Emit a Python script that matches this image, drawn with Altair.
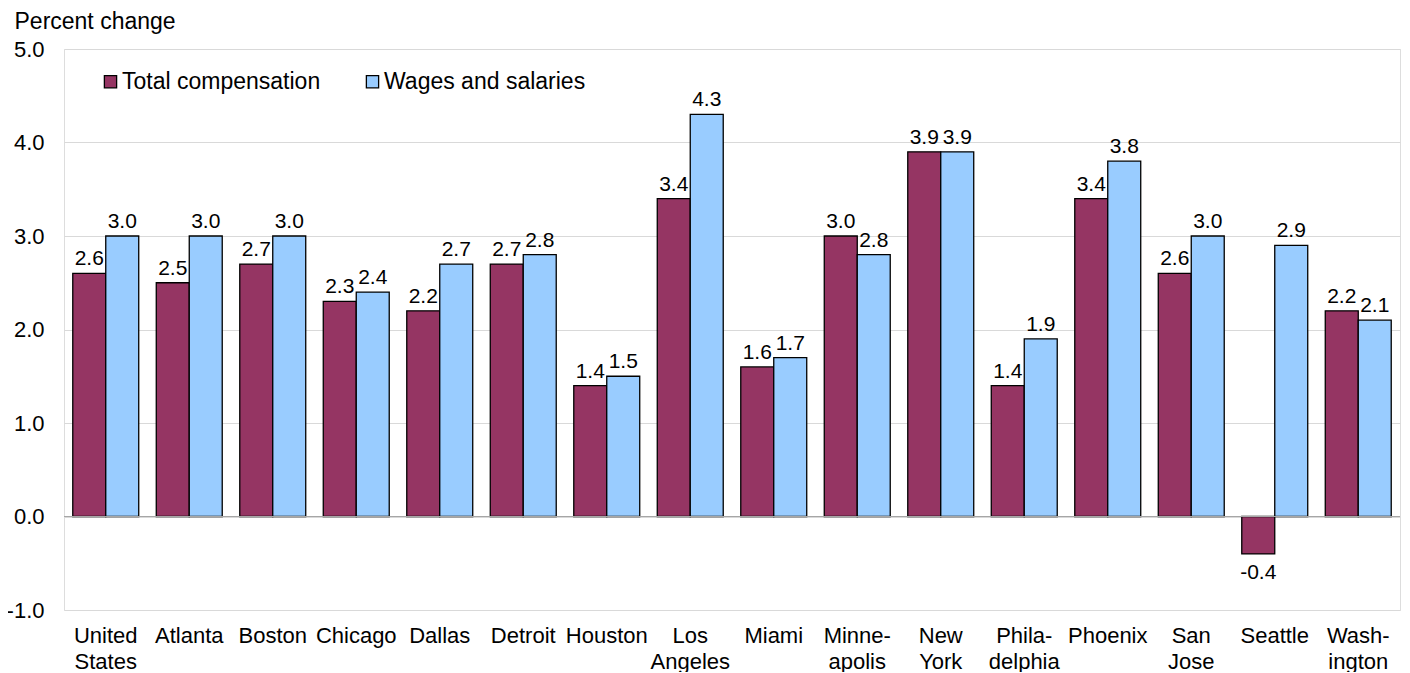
import altair as alt
import pandas as pd

cities = ["United\nStates", "Atlanta", "Boston", "Chicago", "Dallas", "Detroit",
          "Houston", "Los\nAngeles", "Miami", "Minne-\napolis", "New\nYork",
          "Phila-\ndelphia", "Phoenix", "San\nJose", "Seattle", "Wash-\nington"]
total_comp = [2.6, 2.5, 2.7, 2.3, 2.2, 2.7, 1.4, 3.4, 1.6, 3.0, 3.9, 1.4, 3.4, 2.6, -0.4, 2.2]
wages = [3.0, 3.0, 3.0, 2.4, 2.7, 2.8, 1.5, 4.3, 1.7, 2.8, 3.9, 1.9, 3.8, 3.0, 2.9, 2.1]
series = ["Total compensation", "Wages and salaries"]
colors = ["#953563", "#99CCFF"]
y_ticks = [-1, 0, 1, 2, 3, 4, 5]

rows = []
for c, a, b in zip(cities, total_comp, wages):
    rows.append({"city": c, "series": series[0], "value": a})
    rows.append({"city": c, "series": series[1], "value": b})
df = pd.DataFrame(rows)

FONT = "Liberation Sans"
FS = 22

x_enc = alt.X("city:N", sort=cities,
              scale=alt.Scale(paddingInner=0.21, paddingOuter=0.105),
              axis=alt.Axis(title=None, labelAngle=0, labelExpr="split(datum.value, '\\n')",
                            labelLineHeight=26, labelPadding=15, labelBaseline="top",
                            ticks=False, domain=False, grid=False,
                            labelFontSize=FS, labelFont=FONT, labelColor="#000000"))
y_scale = alt.Scale(domain=[-1, 5], nice=False, zero=False)
xoff = alt.XOffset("series:N", sort=series, scale=alt.Scale(domain=series, paddingInner=0, paddingOuter=0))

base = alt.Chart(df).transform_calculate(
    label="replace(format(datum.value, '.1f'), '\u2212', '-')"
)

bars = base.mark_bar(stroke="#000000", strokeWidth=1.3).encode(
    x=x_enc,
    xOffset=xoff,
    y=alt.Y("value:Q", scale=y_scale,
            axis=alt.Axis(values=y_ticks, format=".1f", ticks=False, domain=False,
                          labelExpr="replace(datum.label, '\u2212', '-')",
                          gridColor="#d9d9d9", labelPadding=20,
                          labelFontSize=FS, labelFont=FONT, labelColor="#000000",
                          title="Percent change", titleAngle=0, titleAlign="left",
                          titleBaseline="middle", titleX=-50, titleY=-28,
                          titleFontSize=FS + 1, titleFont=FONT, titleFontWeight="normal",
                          titleColor="#000000")),
    y2=alt.datum(0),
    color=alt.Color("series:N", sort=series,
                    scale=alt.Scale(domain=series, range=colors),
                    legend=alt.Legend(title=None, orient="none", legendX=35, legendY=21,
                                      direction="horizontal", symbolType="square",
                                      symbolSize=150, symbolStrokeColor="#000000",
                                      symbolStrokeWidth=1.3, labelFontSize=FS + 1,
                                      labelFont=FONT, labelColor="#000000", labelLimit=0,
                                      columnPadding=40, labelOffset=0, padding=0)),
)

zero = base.mark_rule(color="#a6a6a6", strokeWidth=1).encode(y=alt.datum(0))

pos_labels = base.transform_filter("datum.value >= 0").mark_text(
    baseline="alphabetic", dy=-8, fontSize=FS - 1, font=FONT, color="#000000"
).encode(x=x_enc, xOffset=xoff, y=alt.Y("value:Q", scale=y_scale), text="label:N")

neg_labels = base.transform_filter("datum.value < 0").mark_text(
    baseline="top", dy=8, fontSize=FS - 1, font=FONT, color="#000000"
).encode(x=x_enc, xOffset=xoff, y=alt.Y("value:Q", scale=y_scale), text="label:N")

chart = alt.layer(bars, zero, pos_labels, neg_labels).properties(
    width=1336, height=561,
    autosize=alt.AutoSizeParams(type="none"),
    padding={"left": 56, "top": 41, "right": 2, "bottom": 62},
).configure_view(stroke="#bfbfbf", strokeWidth=1.3).configure(background="#ffffff")

chart.save("out.html", embed_options={"renderer": "svg", "actions": False})
